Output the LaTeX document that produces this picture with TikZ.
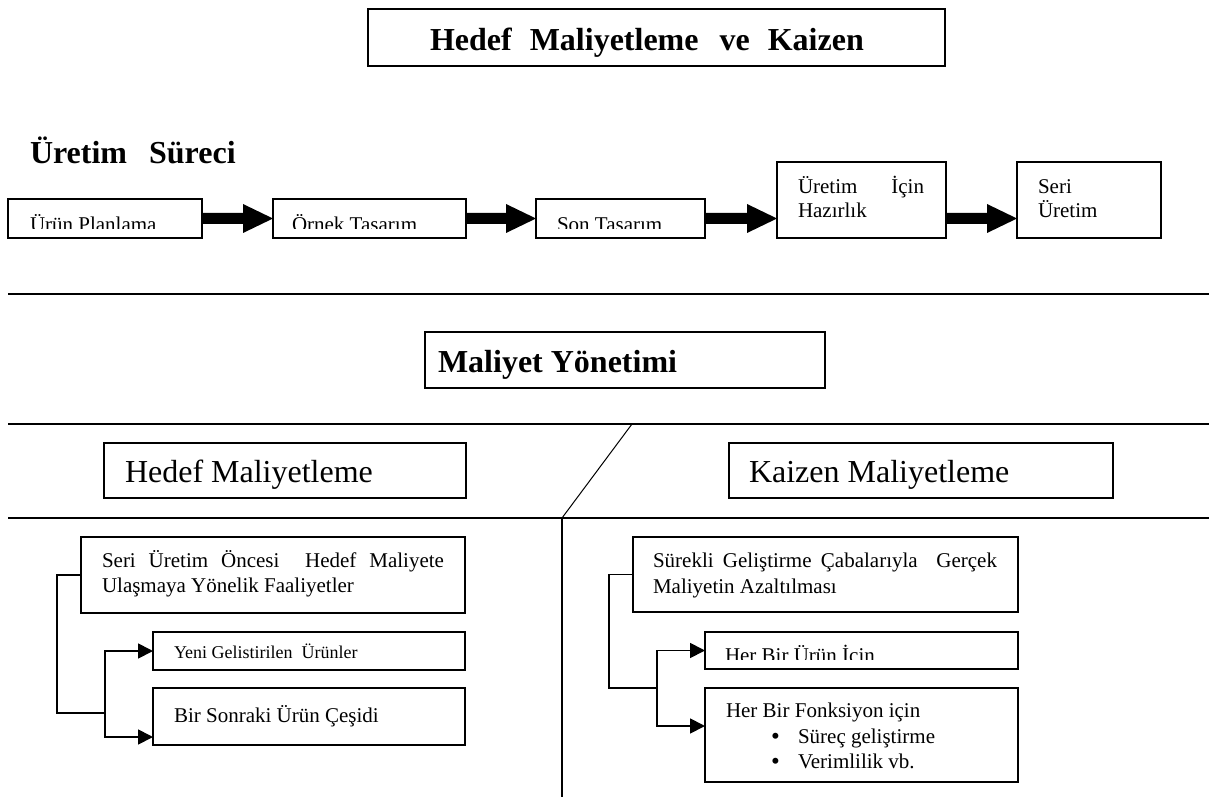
\documentclass[tikz,border=0pt]{standalone}
\usepackage{fontspec}
\setmainfont{Liberation Serif}
\usetikzlibrary{arrows.meta,calc}
\newcommand\fatarrow[3]{%
  \coordinate (#3s) at (#1.east|-rowy);
  \coordinate (#3e) at (#2.west|-rowy);
  \fill[black] ($(#3s)+(0,-5.5)$) -- ($(#3e)+(-30,-5.5)$) -- ($(#3e)+(-30,-14.5)$) -- (#3e)
    -- ($(#3e)+(-30,14.5)$) -- ($(#3e)+(-30,5.5)$) -- ($(#3s)+(0,5.5)$) -- cycle;}
\begin{document}
\begin{tikzpicture}[x=1pt,y=-1pt,
  box/.style={draw,line width=1.5pt,inner sep=0pt,outer sep=0pt,anchor=north west},
  sepline/.style={line width=2.5pt},
  lbl/.style={inner sep=0pt,outer sep=0pt,anchor=base west},
  hbig/.style={lbl,font=\fontsize{32}{38}\selectfont\bfseries},
  nbig/.style={lbl,font=\fontsize{32}{38}\selectfont},
  mid/.style={lbl,font=\fontsize{21}{25}\selectfont},
  sml/.style={lbl,font=\fontsize{18}{22}\selectfont},
  conn/.style={line width=1.8pt},
  tip/.style={conn,-{Triangle[length=15pt,width=15pt]}},
]
\useasboundingbox[fill=white] (0,0) rectangle (1209,799);

% title
\node[box,minimum width=577pt,minimum height=57pt] (title) at (368,9) {};
\node[hbig] (titlet) at (430,51) {Hedef\hspace{18pt}Maliyetleme\hspace{21pt}ve\hspace{18pt}Kaizen};

% production process
\node[hbig] (uret) at (30,164) {Üretim\hspace{22pt}Süreci};
\coordinate (rowy) at (0,218.5);
\node[box,minimum width=194pt,minimum height=39pt] (up) at (8,199) {};
\node[box,minimum width=193pt,minimum height=39pt] (ot) at (273,199) {};
\node[box,minimum width=169pt,minimum height=39pt] (st) at (536,199) {};
\node[box,minimum width=169pt,minimum height=76pt] (uih) at (777,162) {};
\node[box,minimum width=144pt,minimum height=76pt] (su) at (1017,162) {};
\begin{scope}
  \clip (0,190) rectangle (720,229);
  \node[mid] (upt) at (30,231.5) {Ürün Planlama};
  \node[mid] (ott) at (292,231.5) {Örnek Tasarım};
  \node[mid] (stt) at (557,231.5) {Son Tasarım};
\end{scope}
\node[mid] (uiht1) at (798,194) {\makebox[126pt][s]{Üretim İçin}};
\node[mid] (uiht2) at (798,218) {Hazırlık};
\node[mid] (sut1) at (1038,194) {Seri};
\node[mid] (sut2) at (1038,218) {Üretim};
\fatarrow{up}{ot}{a1}
\fatarrow{ot}{st}{a2}
\fatarrow{st}{uih}{a3}
\fatarrow{uih}{su}{a4}

% separators
\draw[sepline] (8,294) -- (1209,294);
\node[box,minimum width=400pt,minimum height=56pt] (my) at (425,332) {};
\node[hbig] (myt) at (438,372) {Maliyet Yönetimi};
\draw[sepline] (8,424) -- (1209,424);
\node[box,minimum width=362pt,minimum height=55pt] (hm) at (104,443) {};
\node[nbig] (hmt) at (125,482) {Hedef Maliyetleme};
\node[box,minimum width=384pt,minimum height=55pt] (km) at (729,443) {};
\node[nbig] (kmt) at (749,482) {Kaizen Maliyetleme};
\draw[sepline] (8,518) -- (1209,518);
\draw[line width=1pt] (632,424) -- (562,518);
\draw[line width=1.5pt] (562,518) -- (562,797);

% left lower
\node[box,minimum width=384pt,minimum height=76pt] (sho) at (81,537) {};
\node[mid] (shot1) at (102,567) {\makebox[342pt][s]{Seri Üretim Öncesi \ Hedef Maliyete}};
\node[mid] (shot2) at (102,592) {Ulaşmaya Yönelik Faaliyetler};
\node[box,minimum width=312pt,minimum height=38pt] (yeni) at (153,632) {};
\node[sml] (yenit) at (174,658) {Yeni Gelistirilen \ Ürünler};
\node[box,minimum width=312pt,minimum height=57pt] (bir) at (153,688) {};
\node[mid] (birt) at (174,722) {Bir Sonraki Ürün Çeşidi};
\coordinate (kl) at (57,713);
\coordinate (jl) at (105,713);
\coordinate (birin) at (153,737);
\draw[conn] (sho.west) -| (kl) -- (jl);
\draw[tip] (jl) |- (yeni.west);
\draw[tip] (jl) |- (birin);

% right lower
\node[box,minimum width=385pt,minimum height=75pt] (sg) at (633,537) {};
\node[mid] (sgt1) at (653,567) {\makebox[344pt][s]{Sürekli Geliştirme Çabalarıyla \ Gerçek}};
\node[mid] (sgt2) at (653,593) {Maliyetin Azaltılması};
\node[box,minimum width=313pt,minimum height=37pt] (hbu) at (705,632) {};
\begin{scope}
  \clip (700,630) rectangle (1020,659.5);
  \node[mid] (hbut) at (725,662) {Her Bir Ürün İçin};
\end{scope}
\node[box,minimum width=313pt,minimum height=94pt] (hbf) at (705,688) {};
\node[mid] (hbft) at (726,717) {Her Bir Fonksiyon için};
\node[mid,font=\fontsize{25}{25}\selectfont] (b1) at (771,744) {\textbullet};
\node[mid] (hbf1) at (798,743) {Süreç geliştirme};
\node[mid,font=\fontsize{25}{25}\selectfont] (b2) at (771,769) {\textbullet};
\node[mid] (hbf2) at (798,768) {Verimlilik vb.};
\coordinate (kr) at (609,688);
\coordinate (jr) at (657,688);
\coordinate (hbfin) at (705,726);
\draw[conn] (sg.west) -| (kr) -- (jr);
\draw[tip] (jr) |- (hbu.west);
\draw[tip] (jr) |- (hbfin);
\end{tikzpicture}
\end{document}
